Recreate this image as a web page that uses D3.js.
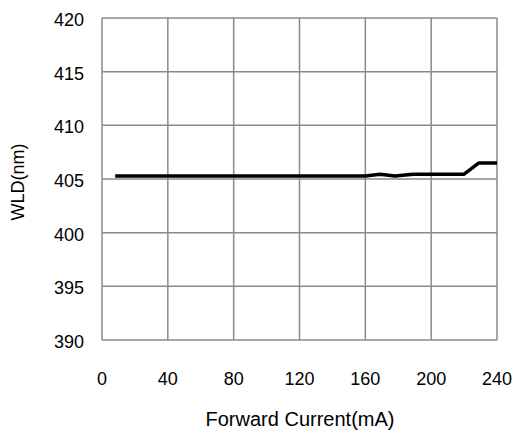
<!DOCTYPE html>
<html lang="en">
<head>
    <meta charset="UTF-8">
    <title>WLD vs Forward Current</title>
    <style>
        body { margin: 0; background: white; }
        text { font-family: "Liberation Sans Narrow", "Liberation Sans", sans-serif; fill: #000; }
        .grid line { stroke: #8a8a8a; stroke-width: 1.5; }
    </style>
    <script src="https://cdn.jsdelivr.net/npm/d3@7"></script>
</head>
<body>
<script>
    const current = [8, 20, 40, 60, 80, 100, 120, 140, 160, 169, 178, 189, 200, 210, 220, 229, 240];
    const wld     = [405.28, 405.28, 405.28, 405.28, 405.28, 405.28, 405.28, 405.28, 405.28, 405.45, 405.28, 405.45, 405.45, 405.45, 405.45, 406.5, 406.5];
    const xTicks  = [0, 40, 80, 120, 160, 200, 240];
    const yTicks  = [390, 395, 400, 405, 410, 415, 420];

    const width = 520, height = 437;
    const margin = {left: 102, right: 23, top: 18, bottom: 97};

    const svg = d3.select("body").append("svg")
                  .attr("width", width).attr("height", height);

    const x = d3.scaleLinear().domain([0, 240]).range([margin.left, width - margin.right]);
    const y = d3.scaleLinear().domain([390, 420]).range([height - margin.bottom, margin.top]);

    // grid
    const grid = svg.append("g").attr("class", "grid");
    grid.selectAll("line.v").data(xTicks).join("line").attr("class", "v")
        .attr("x1", d => x(d)).attr("x2", d => x(d))
        .attr("y1", y(390)).attr("y2", y(420));
    grid.selectAll("line.h").data(yTicks).join("line").attr("class", "h")
        .attr("x1", x(0)).attr("x2", x(240))
        .attr("y1", d => y(d)).attr("y2", d => y(d));

    // tick labels
    svg.selectAll("text.yt").data(yTicks).join("text").attr("class", "yt")
        .attr("x", x(0) - 18).attr("y", d => y(d) + 8)
        .attr("text-anchor", "end").attr("font-size", 18)
        .text(d => d);
    svg.selectAll("text.xt").data(xTicks).join("text").attr("class", "xt")
        .attr("x", d => x(d)).attr("y", y(390) + 45)
        .attr("text-anchor", "middle").attr("font-size", 18)
        .text(d => d);

    // axis titles
    svg.append("text")
        .attr("x", 300).attr("y", 426)
        .attr("text-anchor", "middle").attr("font-size", 20)
        .text("Forward Current(mA)");
    svg.append("text")
        .attr("transform", `translate(24,182) rotate(-90)`)
        .attr("text-anchor", "middle").attr("font-size", 18)
        .text("WLD(nm)");

    // data line
    const line = d3.line().x((d, i) => x(current[i])).y(d => y(d));
    svg.append("path").datum(wld)
        .attr("d", line)
        .attr("fill", "none").attr("stroke", "#000").attr("stroke-width", 3.5)
        .attr("stroke-linejoin", "round");
</script>
</body>
</html>
